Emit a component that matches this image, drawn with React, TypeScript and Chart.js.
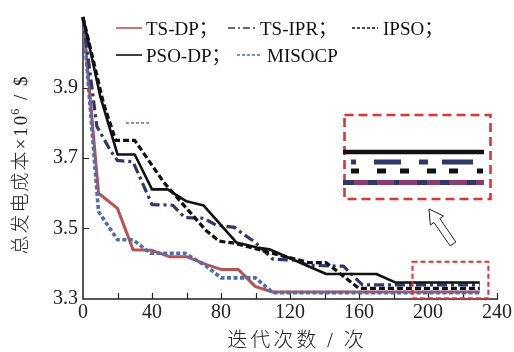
import React, { useEffect, useRef } from 'react';
import { Chart, registerables } from 'chart.js';

Chart.register(...registerables);

// ---- data (iterations / total generation cost ×10^6 $) ----
const iterTSDP = [0, 9, 20, 29, 40, 50, 60, 72, 80, 90, 100, 110, 230];
const costTSDP = [4.1, 3.6, 3.557, 3.44, 3.438, 3.42, 3.42, 3.397, 3.384, 3.384, 3.335, 3.32, 3.32];

const iterMISOCP = [0, 9, 20, 29, 39, 59, 71, 80, 100, 110, 230];
const costMISOCP = [4.1, 3.548, 3.468, 3.468, 3.43, 3.43, 3.395, 3.36, 3.36, 3.318, 3.318];

const iterTSIPR = [0, 8, 16, 20, 29, 40, 52, 59, 70, 77, 88, 92, 99, 110, 124, 130, 151, 162, 230];
const costTSIPR = [4.1, 3.79, 3.72, 3.693, 3.689, 3.568, 3.566, 3.531, 3.529, 3.51, 3.503, 3.487, 3.464, 3.413, 3.41, 3.396, 3.393, 3.34, 3.34];

const iterIPSO = [0, 12, 19, 30, 47, 71, 79, 87, 131, 141, 160, 230];
const costIPSO = [4.1, 3.853, 3.75, 3.75, 3.63, 3.496, 3.464, 3.459, 3.403, 3.403, 3.33, 3.33];

const iterPSODP = [0, 10, 20, 30, 40, 49, 60, 70, 89, 101, 108, 141, 170, 181, 230];
const costPSODP = [4.1, 3.875, 3.71, 3.71, 3.611, 3.611, 3.577, 3.565, 3.46, 3.446, 3.441, 3.371, 3.371, 3.347, 3.347];

const xTicksLabelled = [0, 40, 80, 120, 160, 200, 240];
const seriesNames = ['TS-DP；', 'TS-IPR；', 'IPSO；', 'PSO-DP；', 'MISOCP'];

const RED = '#c0504d';
const NAVY = '#2e3770';
const BLUE = '#4a6fb8';
const BLACK = '#111111';
const BOXRED = '#e83030';

const zip = (xs: number[], ys: number[]) => xs.map((x, i) => ({ x, y: ys[i] }));

const SERIF = "'Liberation Serif', 'Noto Sans CJK SC', serif";

const decor = {
  id: 'decor',
  beforeDatasetsDraw(chart: any) {
    const { ctx, chartArea: ca, scales } = chart;
    const x = scales.x, y = scales.y;
    ctx.save();
    ctx.strokeStyle = '#222';
    ctx.lineWidth = 1.5;
    ctx.beginPath();
    ctx.moveTo(ca.left, ca.top);
    ctx.lineTo(ca.left, ca.bottom);
    ctx.lineTo(ca.right + 1, ca.bottom);
    ctx.stroke();
    ctx.lineWidth = 1.2;
    ctx.beginPath();
    x.ticks.forEach((t: any) => {
      const px = Math.round(x.getPixelForValue(t.value)) + 0.5;
      if (t.value === 0) return;
      ctx.moveTo(px, ca.bottom);
      ctx.lineTo(px, ca.bottom - 6);
    });
    y.ticks.forEach((t: any) => {
      if (Math.abs(t.value - 3.3) < 1e-6 || Math.abs(t.value - 4.1) < 1e-6) return;
      const py = Math.round(y.getPixelForValue(t.value)) + 0.5;
      ctx.moveTo(ca.left, py);
      ctx.lineTo(ca.left + 6, py);
    });
    ctx.stroke();
    ctx.restore();
  },
  afterDraw(chart: any) {
    const { ctx, scales } = chart;
    const x = scales.x, y = scales.y;
    ctx.save();

    // ---- legend ----
    const seg = (x1: number, x2: number, yy: number, color: string, w: number, dash: number[]) => {
      ctx.beginPath();
      ctx.strokeStyle = color;
      ctx.lineWidth = w;
      ctx.setLineDash(dash);
      ctx.moveTo(x1, yy);
      ctx.lineTo(x2, yy);
      ctx.stroke();
      ctx.setLineDash([]);
    };
    seg(116, 142, 28, RED, 1.6, []);
    seg(228, 255, 28, NAVY, 1.6, [7, 3, 2, 3]);
    seg(352, 378, 28, BLACK, 1.4, [3, 2]);
    seg(116, 142, 55, BLACK, 1.6, []);
    seg(237, 262, 55, BLUE, 1.3, [3, 2]);
    ctx.fillStyle = '#111';
    ctx.font = `19px ${SERIF}`;
    ctx.textBaseline = 'alphabetic';
    ctx.textAlign = 'left';
    ctx.fillText(seriesNames[0], 146, 35);
    ctx.fillText(seriesNames[1], 260, 35);
    ctx.fillText(seriesNames[2], 383, 35);
    ctx.fillText(seriesNames[3], 146, 62);
    ctx.fillText(seriesNames[4], 267, 62);

    // stray short dashed mark
    seg(126, 151, 123, '#6670a8', 1.4, [3, 2]);

    // ---- main zoom box ----
    ctx.strokeStyle = BOXRED;
    ctx.lineWidth = 2;
    ctx.setLineDash([5, 3]);
    const bx1 = x.getPixelForValue(191), bx2 = x.getPixelForValue(235);
    const by1 = y.getPixelForValue(3.406), by2 = y.getPixelForValue(3.302);
    ctx.strokeRect(bx1, by1, bx2 - bx1, by2 - by1);

    // ---- inset box ----
    ctx.lineWidth = 2.6;
    ctx.setLineDash([9, 5]);
    ctx.strokeRect(344.5, 115, 146, 84);
    ctx.setLineDash([]);
    // inset lines
    seg(343, 484, 152, BLACK, 4.5, []);
    const segs = (list: number[][], yy: number, color: string, w: number) =>
      list.forEach(([a, b]) => seg(a, b, yy, color, w, []));
    segs([[351, 356], [374, 401], [419, 428], [442, 473]], 162, NAVY, 5);
    segs([[351, 359], [377, 386], [400, 409], [427, 436], [449, 458], [477, 483]], 171, BLACK, 5);
    seg(343, 484, 182.5, '#8e3a6c', 5, []);
    segs([[343, 354], [368, 377], [394, 399], [417, 427], [440, 449], [467, 476]], 182.5, NAVY, 5);

    // ---- hollow arrow ----
    const tail = { x: 453, y: 244 }, tip = { x: 429, y: 209 };
    const dx = tip.x - tail.x, dy = tip.y - tail.y;
    const len = Math.hypot(dx, dy);
    const ux = dx / len, uy = dy / len;
    const nx = -uy, ny = ux;
    const hw = 3.5, hh = 8, hl = 14;
    const neck = { x: tip.x - ux * hl, y: tip.y - uy * hl };
    ctx.beginPath();
    ctx.moveTo(tail.x + nx * hw, tail.y + ny * hw);
    ctx.lineTo(neck.x + nx * hw, neck.y + ny * hw);
    ctx.lineTo(neck.x + nx * hh, neck.y + ny * hh);
    ctx.lineTo(tip.x, tip.y);
    ctx.lineTo(neck.x - nx * hh, neck.y - ny * hh);
    ctx.lineTo(neck.x - nx * hw, neck.y - ny * hw);
    ctx.lineTo(tail.x - nx * hw, tail.y - ny * hw);
    ctx.closePath();
    ctx.fillStyle = '#fff';
    ctx.fill();
    ctx.strokeStyle = '#222';
    ctx.lineWidth = 1;
    ctx.stroke();

    // ---- axis titles ----
    ctx.fillStyle = '#222';
    (ctx as any).letterSpacing = '3px';
    ctx.font = `300 20px ${SERIF}`;
    ctx.textAlign = 'center';
    ctx.textBaseline = 'middle';
    ctx.fillText('迭代次数 / 次', 297, 342);

    // y title, rotated, with superscript
    const partA = '总发电成本×10';
    const partB = '6';
    const partC = ' / $';
    ctx.font = `300 19px ${SERIF}`;
    (ctx as any).letterSpacing = '2px';
    const wA = ctx.measureText(partA).width;
    const wC = ctx.measureText(partC).width;
    ctx.font = `12px ${SERIF}`;
    (ctx as any).letterSpacing = '0px';
    const wB = ctx.measureText(partB).width + 2;
    const total = wA + wB + wC;
    ctx.translate(22, 164);
    ctx.rotate(-Math.PI / 2);
    ctx.textAlign = 'left';
    let cx = -total / 2;
    ctx.font = `300 19px ${SERIF}`;
    (ctx as any).letterSpacing = '2px';
    ctx.fillText(partA, cx, 0);
    cx += wA - 1;
    ctx.font = `12px ${SERIF}`;
    (ctx as any).letterSpacing = '0px';
    ctx.fillText(partB, cx, -6);
    cx += wB;
    ctx.font = `300 19px ${SERIF}`;
    (ctx as any).letterSpacing = '2px';
    ctx.fillText(partC, cx, 0);
    ctx.restore();
  },
};

export default function App() {
  const ref = useRef<HTMLCanvasElement | null>(null);
  useEffect(() => {
    if (!ref.current) return;
    const base = { pointRadius: 0, tension: 0, fill: false, clip: false as any, borderJoinStyle: 'round' as const };
    const chart = new Chart(ref.current, {
      type: 'line',
      data: {
        datasets: [
          { ...base, label: 'PSO-DP', data: zip(iterPSODP, costPSODP), borderColor: BLACK, borderWidth: 2.6 },
          { ...base, label: 'IPSO', data: zip(iterIPSO, costIPSO), borderColor: BLACK, borderWidth: 3.2, borderDash: [6, 3] },
          { ...base, label: 'TS-IPR', data: zip(iterTSIPR, costTSIPR), borderColor: NAVY, borderWidth: 3.2, borderDash: [10, 4, 3, 4] },
          { ...base, label: 'MISOCP', data: zip(iterMISOCP, costMISOCP), borderColor: BLUE, borderWidth: 3.6, borderDash: [4, 2.5] },
          { ...base, label: 'TS-DP', data: zip(iterTSDP, costTSDP), borderColor: RED, borderWidth: 3 },
        ],
      },
      options: {
        responsive: false,
        animation: false,
        devicePixelRatio: 1,
        layout: { padding: { top: 11, right: 17, left: 0, bottom: 0 } },
        plugins: { legend: { display: false }, tooltip: { enabled: false } },
        scales: {
          x: {
            type: 'linear',
            min: 0,
            max: 240,
            grid: { display: false, drawTicks: false },
            border: { display: false },
            ticks: {
              stepSize: 20,
              autoSkip: false,
              maxRotation: 0,
              padding: 2,
              color: '#222',
              font: { family: SERIF, size: 20 },
              callback: (v: any) => (xTicksLabelled.includes(Number(v)) ? String(v) : ''),
            },
            afterFit: (s: any) => { s.height = 53; },
          },
          y: {
            type: 'linear',
            min: 3.3,
            max: 4.1,
            grid: { display: false, drawTicks: false },
            border: { display: false },
            ticks: {
              stepSize: 0.2,
              padding: 5,
              color: '#222',
              font: { family: SERIF, size: 20 },
              callback: (v: any) => (Math.abs(Number(v) - 4.1) < 1e-6 ? '' : Number(v).toFixed(1)),
            },
            afterFit: (s: any) => { s.width = 83; },
          },
        },
      },
      plugins: [decor],
    });
    return () => chart.destroy();
  }, []);
  return (
    <div style={{ position: 'absolute', left: 0, top: 0, width: 514, height: 352, background: '#fff' }}>
      <canvas ref={ref} width={514} height={352} style={{ display: 'block' }} />
    </div>
  );
}
